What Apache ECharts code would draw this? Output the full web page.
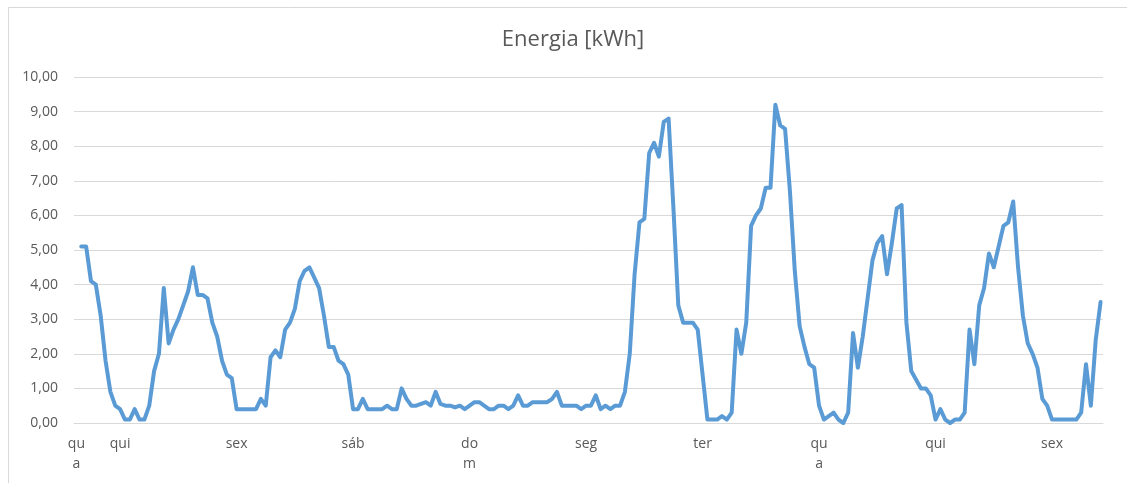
<!DOCTYPE html>
<html>
<head>
<meta charset="utf-8">
<script src="https://cdn.jsdelivr.net/npm/echarts@6/dist/echarts.min.js"></script>
<style>
html,body{margin:0;padding:0;background:#fff;}
#chart{width:1127px;height:483px;}
</style>
</head>
<body>
<div id="chart"></div>
<script>
// Hourly readings, starting Wednesday 15:00 (first hour has no reading)
const startDay = 3;   // index into weekDays (qua)
const startHour = 15;
const weekDays = ['dom', 'seg', 'ter', 'qua', 'qui', 'sex', 'sáb'];
// Day names as printed under the axis (Excel wrapped the wider ones)
const dayLabelText = { 'qua': 'qu\na', 'dom': 'do\nm' };

const energy = [
  null, 5.1, 5.1, 4.1, 4.0, 3.1, 1.8, 0.9, 0.5,
  0.4, 0.1, 0.1, 0.4, 0.1, 0.1, 0.5, 1.5, 2.0, 3.9, 2.3, 2.7, 3.0, 3.4, 3.8, 4.5, 3.7, 3.7, 3.6, 2.9, 2.5, 1.8, 1.4, 1.3,
  0.4, 0.4, 0.4, 0.4, 0.4, 0.7, 0.5, 1.9, 2.1, 1.9, 2.7, 2.9, 3.3, 4.1, 4.4, 4.5, 4.2, 3.9, 3.1, 2.2, 2.2, 1.8, 1.7, 1.4,
  0.4, 0.4, 0.7, 0.4, 0.4, 0.4, 0.4, 0.5, 0.4, 0.4, 1.0, 0.7, 0.5, 0.5, 0.55, 0.6, 0.5, 0.9, 0.55, 0.5, 0.5, 0.45, 0.5, 0.4,
  0.5, 0.6, 0.6, 0.5, 0.4, 0.4, 0.5, 0.5, 0.4, 0.5, 0.8, 0.5, 0.5, 0.6, 0.6, 0.6, 0.6, 0.7, 0.9, 0.5, 0.5, 0.5, 0.5, 0.4,
  0.5, 0.5, 0.8, 0.4, 0.5, 0.4, 0.5, 0.5, 0.9, 2.0, 4.3, 5.8, 5.9, 7.8, 8.1, 7.7, 8.7, 8.8, 6.2, 3.4, 2.9, 2.9, 2.9, 2.7,
  1.4, 0.1, 0.1, 0.1, 0.2, 0.1, 0.3, 2.7, 2.0, 2.9, 5.7, 6.0, 6.2, 6.8, 6.8, 9.2, 8.6, 8.5, 6.7, 4.4, 2.8, 2.2, 1.7, 1.6,
  0.5, 0.1, 0.2, 0.3, 0.1, 0.0, 0.3, 2.6, 1.6, 2.5, 3.6, 4.7, 5.2, 5.4, 4.3, 5.2, 6.2, 6.3, 2.9, 1.5, 1.25, 1.0, 1.0, 0.8,
  0.1, 0.4, 0.1, 0.0, 0.1, 0.1, 0.3, 2.7, 1.7, 3.4, 3.9, 4.9, 4.5, 5.1, 5.7, 5.8, 6.4, 4.5, 3.1, 2.3, 2.0, 1.6, 0.7, 0.5,
  0.1, 0.1, 0.1, 0.1, 0.1, 0.1, 0.3, 1.7, 0.5, 2.4, 3.5
];

const yMin = 0, yMax = 10, yStep = 1;

// category per hour: "qua 15h", ...
const categories = energy.map((v, i) => {
  const h = startHour + i;
  const day = weekDays[(startDay + Math.floor(h / 24)) % 7];
  return day + ' ' + (h % 24) + 'h';
});
function isDayLabel(i) {
  return i === 0 || (startHour + i) % 24 === 0;
}

const chart = echarts.init(document.getElementById('chart'), null, { renderer: 'canvas' });
chart.setOption({
  animation: false,
  backgroundColor: '#ffffff',
  textStyle: { fontFamily: 'Open Sans' },
  graphic: [
    {
      type: 'rect',
      shape: { x: 8.5, y: 7.5, width: 1300, height: 700 },
      style: { fill: 'none', stroke: '#d9d9d9', lineWidth: 1 },
      silent: true
    },
    {
      type: 'text',
      x: 573, y: 40,
      style: {
        text: 'Energia [kWh]',
        fill: '#595959',
        font: '22px "Open Sans"',
        textAlign: 'center',
        textVerticalAlign: 'middle'
      }
    }
  ],
  grid: { left: 74, right: 24, top: 77, bottom: 60, containLabel: false },
  xAxis: {
    type: 'category',
    data: categories,
    boundaryGap: true,
    axisLine: { show: true, lineStyle: { color: '#d9d9d9', width: 1 } },
    axisTick: { show: false },
    splitLine: { show: false },
    axisLabel: {
      interval: (idx) => isDayLabel(idx),
      formatter: (val) => {
        const d = val.split(' ')[0];
        return dayLabelText[d] || d;
      },
      color: '#595959',
      fontSize: 14,
      fontFamily: 'Open Sans',
      lineHeight: 20,
      margin: 11,
      align: 'center'
    }
  },
  yAxis: {
    type: 'value',
    min: yMin, max: yMax, interval: yStep,
    axisLine: { show: false },
    axisTick: { show: false },
    splitLine: { show: true, lineStyle: { color: '#d9d9d9', width: 1 } },
    axisLabel: {
      color: '#595959',
      fontSize: 14,
      fontFamily: 'Open Sans',
      margin: 16,
      formatter: (v) => v.toFixed(2).replace('.', ',')
    }
  },
  series: [{
    type: 'line',
    data: energy,
    showSymbol: false,
    symbol: 'none',
    connectNulls: false,
    lineStyle: { color: '#5B9BD5', width: 4, join: 'round', cap: 'round' },
    itemStyle: { color: '#5B9BD5' }
  }]
});
</script>
</body>
</html>
